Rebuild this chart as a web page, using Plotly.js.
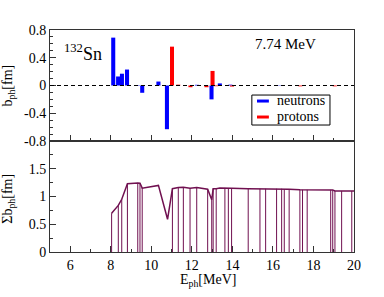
<!DOCTYPE html>
<html>
<head>
<meta charset="utf-8">
<script src="https://cdn.plot.ly/plotly-3.0.1.min.js"></script>
<style>html,body{margin:0;padding:0;background:#fff;}#chart{width:384px;height:297px;}</style>
</head>
<body>
<div id="chart"></div>
<script>
// Top panel: b_ph per state (fm) vs E_ph (MeV)
const neutronE = [8.12, 8.36, 8.55, 8.80, 9.33, 9.55, 10.35, 10.77, 12.25, 12.97, 13.38, 13.90, 16.30];
const neutronB = [0.69, 0.13, 0.17, 0.23, 0.006, -0.105, 0.057, -0.63, 0.01, -0.20, 0.03, 0.012, 0.004];
const protonE = [11.02, 11.33, 11.93, 12.72, 13.02, 13.20, 13.98, 15.50, 17.35, 19.05];
const protonB = [0.56, 0.012, -0.025, -0.025, 0.21, -0.01, -0.015, 0.005, -0.012, -0.012];

// Bottom panel: running sum of b_ph (fm)
const sumE = [8.04, 8.37, 8.54, 8.82, 9.33, 9.44, 9.55, 10.35, 10.80, 11.04, 11.33, 11.58, 11.91, 12.24, 12.78, 12.98, 13.05, 13.20, 13.38, 13.63, 13.80, 13.96, 14.78, 15.36, 15.64, 16.18, 16.43, 16.56, 16.80, 17.33, 17.46, 17.69, 18.85, 18.95, 19.06, 19.39, 19.89, 20.00];
const sumB = [0.70, 0.84, 0.95, 1.23, 1.245, 1.24, 1.15, 1.20, 0.59, 1.14, 1.16, 1.165, 1.15, 1.16, 1.13, 0.94, 1.14, 1.14, 1.155, 1.155, 1.15, 1.15, 1.14, 1.14, 1.14, 1.14, 1.14, 1.135, 1.13, 1.12, 1.12, 1.12, 1.12, 1.115, 1.10, 1.10, 1.10, 1.10];
const sumDrop = [1, 1, 1, 1, 1, 1, 1, 0, 0, 1, 1, 1, 1, 1, 1, 1, 1, 1, 0, 1, 1, 1, 1, 1, 1, 1, 1, 1, 1, 1, 1, 1, 1, 1, 1, 1, 1, 0];

const xTicks = [6, 8, 10, 12, 14, 16, 18, 20];
const topTicks = [-0.8, -0.4, 0, 0.4, 0.8];
const topTickText = ['-0.8', '-0.4', '0', '0.4', '0.8'];
const botTicks = [0, 0.5, 1, 1.5];
const botTickText = ['0', '0.5', '1', '1.5'];

const purple = '#701050';
const frame = '#333';
const dropX = [], dropY = [];
sumE.forEach((e, i) => { if (sumDrop[i]) { dropX.push(e, e, null); dropY.push(0, sumB[i], null); } });

const traces = [
  {type: 'bar', name: 'neutrons', x: neutronE, y: neutronB, width: 0.2, marker: {color: '#0000ff', line: {width: 0}}, xaxis: 'x2', yaxis: 'y2'},
  {type: 'bar', name: 'protons', x: protonE, y: protonB, width: 0.2, marker: {color: '#ff0000', line: {width: 0}}, xaxis: 'x2', yaxis: 'y2'},
  {type: 'scatter', mode: 'lines', x: dropX, y: dropY, line: {color: purple, width: 1}, xaxis: 'x', yaxis: 'y', connectgaps: false},
  {type: 'scatter', mode: 'lines', x: sumE, y: sumB, line: {color: purple, width: 1.5}, xaxis: 'x', yaxis: 'y'}
];

const F = 'Liberation Serif, Times New Roman, serif';
const xBase = {range: [5, 20], tickmode: 'array', tickvals: xTicks, ticks: 'inside', ticklen: 6, tickwidth: 1, tickcolor: frame,
  showline: true, mirror: true, linecolor: frame, linewidth: 1, showgrid: false, zeroline: false,
  minor: {tickmode: 'linear', tick0: 5, dtick: 1, ticks: 'inside', ticklen: 3, tickcolor: frame, showgrid: false}};

const layout = {
  width: 384, height: 297,
  margin: {l: 50, r: 30, t: 30, b: 45},
  paper_bgcolor: '#fff', plot_bgcolor: '#fff',
  font: {family: F, size: 14, color: '#000'},
  showlegend: false, barmode: 'overlay',
  xaxis: Object.assign({}, xBase, {anchor: 'y', domain: [0, 1], tickfont: {size: 14}}),
  xaxis2: Object.assign({}, xBase, {anchor: 'y2', domain: [0, 1], matches: 'x', showticklabels: false}),
  yaxis: {domain: [0, 0.5], anchor: 'x', range: [0, 2], tickmode: 'array', tickvals: botTicks, ticktext: botTickText,
    ticks: 'inside', ticklen: 6, tickcolor: frame, showline: true, mirror: true, linecolor: frame, linewidth: 1,
    showgrid: false, zeroline: false, tickfont: {size: 14},
    minor: {tickmode: 'linear', tick0: 0, dtick: 0.25, ticks: 'inside', ticklen: 3, tickcolor: frame, showgrid: false}},
  yaxis2: {domain: [0.5, 1], anchor: 'x2', range: [-0.8, 0.8], tickmode: 'array', tickvals: topTicks, ticktext: topTickText,
    ticks: 'inside', ticklen: 6, tickcolor: frame, showline: true, mirror: true, linecolor: frame, linewidth: 1,
    showgrid: false, zeroline: false, tickfont: {size: 14},
    minor: {tickmode: 'linear', tick0: 0, dtick: 0.1, ticks: 'inside', ticklen: 3, tickcolor: frame, showgrid: false}},
  shapes: [
    {type: 'line', xref: 'x2', yref: 'y2', x0: 5, x1: 20, y0: 0, y1: 0, line: {color: '#000', width: 1, dash: '4px,3px'}, layer: 'above'},
    {type: 'rect', xref: 'paper', yref: 'paper', x0: 0.664, x1: 0.921, y0: 0.572, y1: 0.707, line: {color: '#000', width: 1}, fillcolor: '#fff', layer: 'above'},
    {type: 'line', xref: 'paper', yref: 'paper', x0: 0.681, x1: 0.72, y0: 0.680, y1: 0.680, line: {color: '#0000ff', width: 3}, layer: 'above'},
    {type: 'line', xref: 'paper', yref: 'paper', x0: 0.681, x1: 0.72, y0: 0.608, y1: 0.608, line: {color: '#ff0000', width: 3}, layer: 'above'}
  ],
  annotations: [
    {xref: 'paper', yref: 'paper', x: 0.740, y: 0.682, xanchor: 'left', yanchor: 'middle', text: 'neutrons', showarrow: false, font: {size: 14}},
    {xref: 'paper', yref: 'paper', x: 0.740, y: 0.612, xanchor: 'left', yanchor: 'middle', text: 'protons', showarrow: false, font: {size: 14}},
    {xref: 'paper', yref: 'paper', x: 0.776, y: 0.937, xanchor: 'center', yanchor: 'middle', text: '7.74 MeV', showarrow: false, font: {size: 15}},
    {xref: 'paper', yref: 'paper', x: 0.040, y: 0.90, xanchor: 'left', yanchor: 'middle', text: '<sup>132</sup>Sn', showarrow: false, font: {size: 18}},
    {xref: 'paper', yref: 'paper', x: -0.135, y: 0.75, xanchor: 'center', yanchor: 'middle', textangle: -90, text: 'b<sub>ph</sub>[fm]', showarrow: false, font: {size: 14}},
    {xref: 'paper', yref: 'paper', x: -0.135, y: 0.24, xanchor: 'center', yanchor: 'middle', textangle: -90, text: 'Σb<sub>ph</sub>[fm]', showarrow: false, font: {size: 14}},
    {xref: 'paper', yref: 'paper', x: 0.52, y: -0.128, xanchor: 'center', yanchor: 'middle', text: 'E<sub>ph</sub>[MeV]', showarrow: false, font: {size: 14}}
  ]
};

Plotly.newPlot('chart', traces, layout, {staticPlot: true, displayModeBar: false});
</script>
</body>
</html>
